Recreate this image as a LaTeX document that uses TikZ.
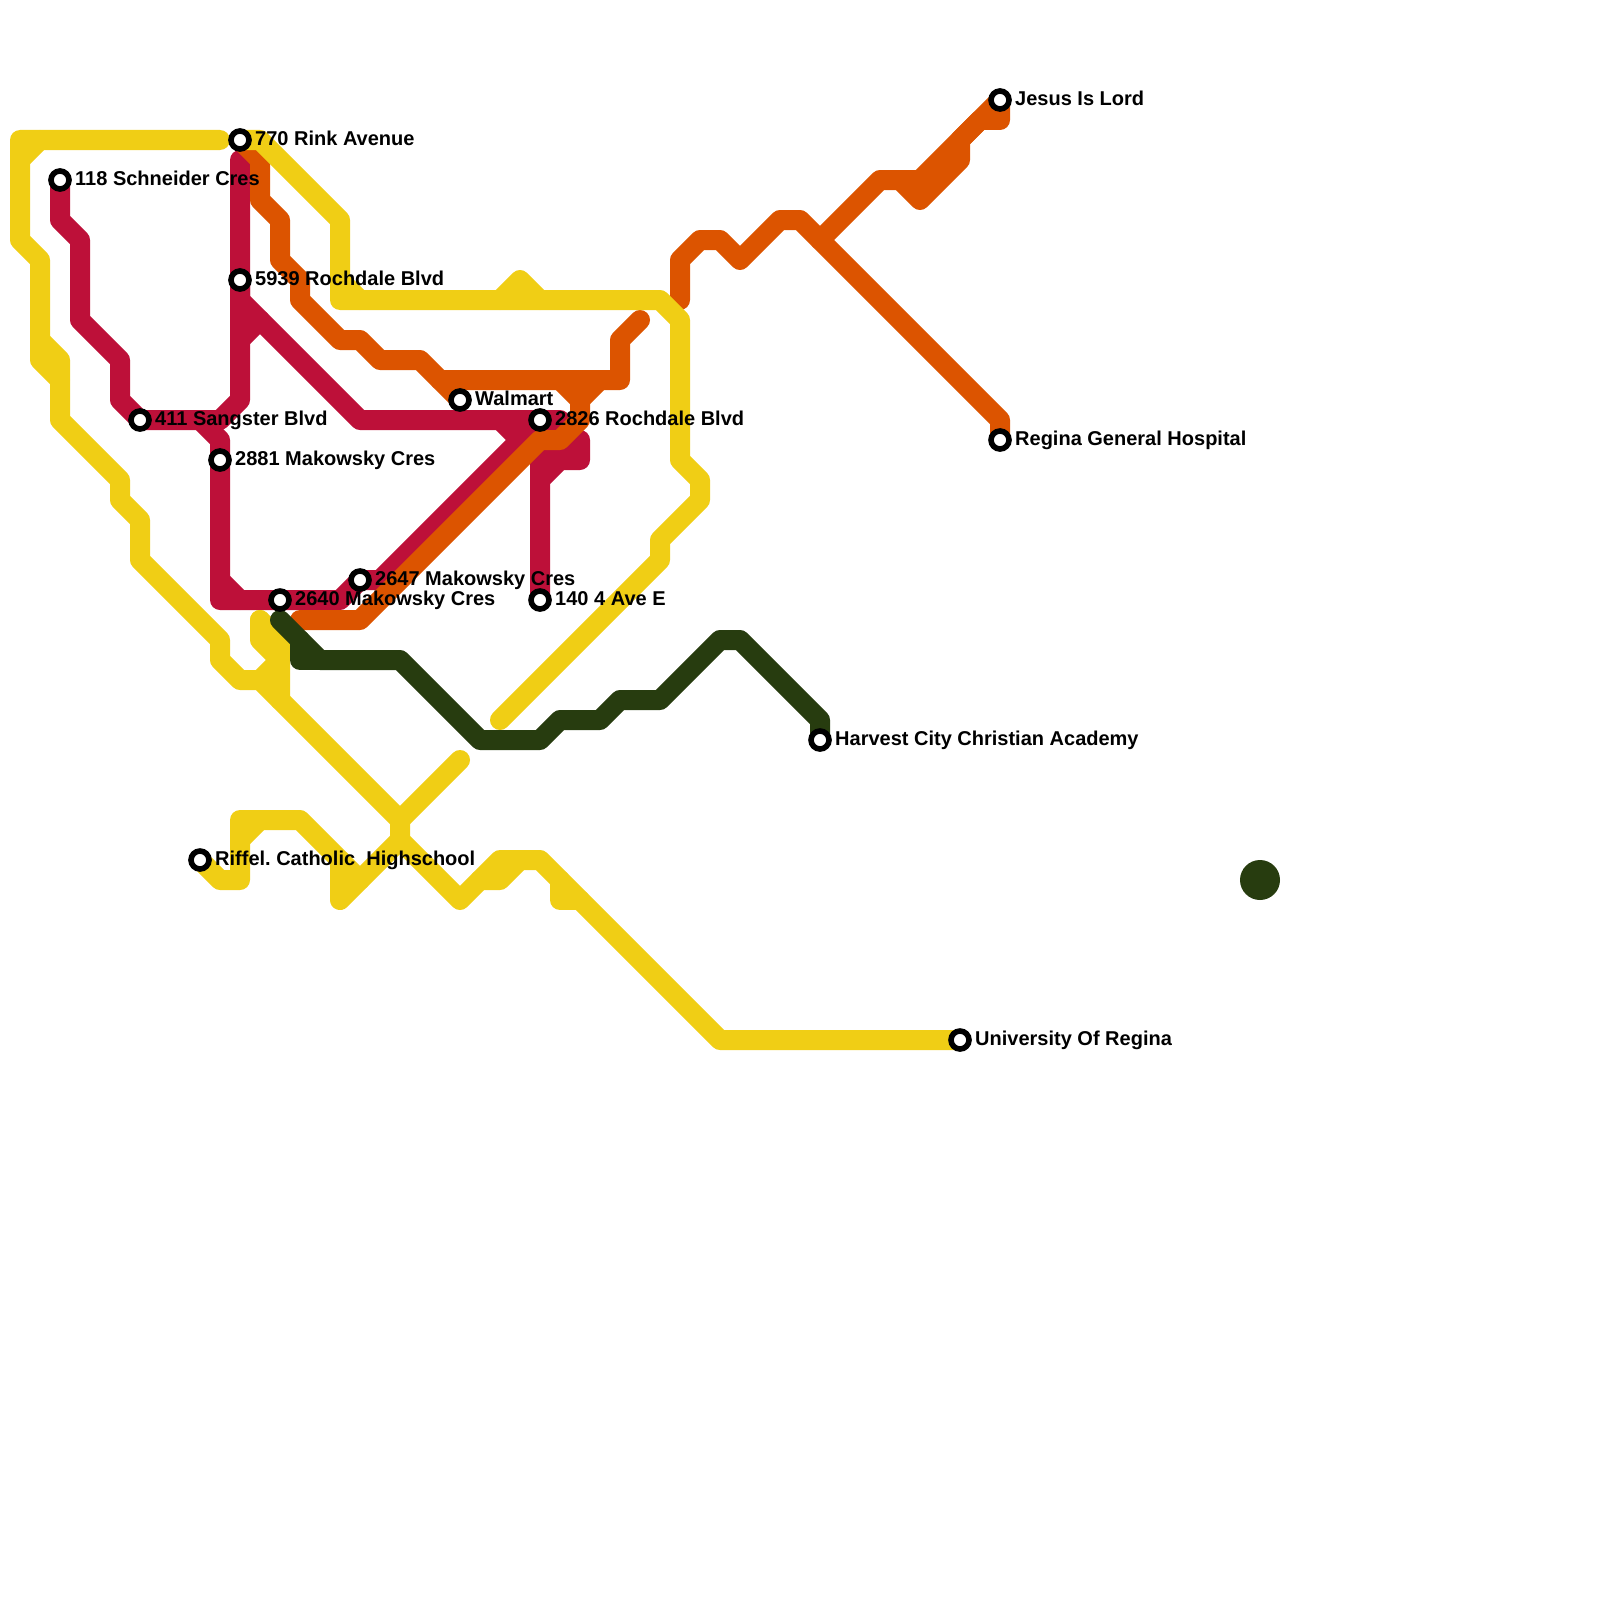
\documentclass[tikz,border=0pt]{standalone}
\usepackage{fontspec}
\setmainfont{Liberation Sans}
\definecolor{lred}{RGB}{189,16,57}
\definecolor{lorange}{RGB}{220,84,0}
\definecolor{lyellow}{RGB}{240,206,21}
\definecolor{lgreen}{RGB}{39,60,15}
\tikzset{
  metro/.style={line width=20pt,line cap=round,line join=round},
  stn/.style={circle,draw=black,fill=white,line width=5.6pt,minimum size=18pt,inner sep=0pt},
  lbl/.style={anchor=base west,inner sep=0pt,yshift=-0.5pt,font=\fontsize{20}{22}\bfseries\selectfont,text=black}
}
\begin{document}
\frenchspacing
\begin{tikzpicture}[x=1pt,y=-1pt]
\useasboundingbox (0,0) rectangle (1600,1600);
\coordinate (rink) at (240,140);
\coordinate (schneider) at (60,180);
\coordinate (rochdale) at (240,280);
\coordinate (sangster) at (140,420);
\coordinate (mak) at (220,460);
\coordinate (walmart) at (460,400);
\coordinate (rochb) at (540,420);
\coordinate (mak47) at (360,580);
\coordinate (mak40) at (280,600);
\coordinate (ave) at (540,600);
\coordinate (riffel) at (200,860);
\coordinate (jesus) at (1000,100);
\coordinate (general) at (1000,440);
\coordinate (harvest) at (820,740);
\coordinate (uni) at (960,1040);
\coordinate (gstart) at (280,620);
% red
\draw[metro,lred] (schneider) -- (60,220) -- (80,240) -- (80,320) -- (120,360) -- (120,400) -- (sangster) -- (220,420) -- (240,400) -- (240,160);
\draw[metro,lred] (200,420) -- (220,440) -- (mak) -- (220,600) -- (mak40) -- (340,600) -- (mak47) -- (380,580) -- (rochb);
\draw[metro,lred] (220,580) -- (240,600);
\draw[metro,lred] (rochdale) -- (240,300) -- (360,420) -- (rochb) -- (560,420);
\draw[metro,lred] (500,420) -- (520,440);
\draw[metro,lred] (240,340) -- (260,320);
\draw[metro,lred] (ave) -- (540,460) -- (560,440) -- (580,440) -- (580,460) -- (560,460) -- (540,480);
% orange
\draw[metro,lorange] (rink) -- (260,160) -- (260,200) -- (280,220) -- (280,260) -- (300,280) -- (300,300) -- (340,340) -- (360,340) -- (380,360) -- (420,360) -- (walmart);
\draw[metro,lorange] (440,380) -- (620,380) -- (620,340) -- (640,320);
\draw[metro,lorange] (560,380) -- (580,400) -- (580,420) -- (560,440) -- (540,440) -- (360,620) -- (300,620);
\draw[metro,lorange] (600,380) -- (580,400);
\draw[metro,lorange] (680,300) -- (680,260) -- (700,240) -- (720,240) -- (740,260) -- (780,220) -- (800,220) -- (1000,420) -- (general);
\draw[metro,lorange] (820,240) -- (880,180) -- (920,180) -- (jesus);
\draw[metro,lorange] (900,180) -- (920,200) -- (960,160) -- (960,140) -- (980,120) -- (1000,120) -- (jesus);
% yellow
\draw[metro,lyellow] (220,140) -- (20,140) -- (20,240) -- (40,260) -- (40,360) -- (60,380);
\draw[metro,lyellow] (20,160) -- (40,140);
\draw[metro,lyellow] (40,340) -- (60,360) -- (60,420) -- (120,480) -- (120,500) -- (140,520) -- (140,560) -- (220,640) -- (220,660) -- (240,680) -- (260,680) -- (400,820) -- (400,840) -- (460,900) -- (500,860) -- (540,860) -- (720,1040) -- (uni);
\draw[metro,lyellow] (480,880) -- (500,880) -- (520,860);
\draw[metro,lyellow] (560,880) -- (560,900) -- (580,900);
\draw[metro,lyellow] (rink) -- (260,140) -- (340,220) -- (340,300) -- (660,300) -- (680,320) -- (680,460) -- (700,480) -- (700,500) -- (660,540) -- (660,560) -- (500,720);
\draw[metro,lyellow] (340,280) -- (360,300);
\draw[metro,lyellow] (500,300) -- (520,280) -- (540,300);
\draw[metro,lyellow] (260,680) -- (280,660);
\draw[metro,lyellow] (260,620) -- (260,640) -- (280,660) -- (280,700);
\draw[metro,lyellow] (260,620) -- (280,640) -- (280,660);
\draw[metro,lyellow] (460,760) -- (400,820);
\draw[metro,lyellow] (400,840) -- (340,900) -- (340,860) -- (300,820) -- (240,820) -- (240,880) -- (220,880) -- (riffel);
\draw[metro,lyellow] (240,840) -- (260,820);
\draw[metro,lyellow] (340,860) -- (360,880);
% green
\draw[metro,lgreen] (gstart) -- (320,660) -- (400,660) -- (480,740) -- (540,740) -- (560,720) -- (600,720) -- (620,700) -- (660,700) -- (720,640) -- (740,640) -- (820,720) -- (harvest);
\draw[metro,lgreen] (300,640) -- (300,660) -- (320,660);
\fill[lgreen] (1260,880) circle (20pt);
% stations
\foreach \n in {rink,schneider,rochdale,sangster,mak,walmart,rochb,mak47,mak40,ave,riffel,jesus,general,harvest,uni}
  \node[stn] (s\n) at (\n) {};
% labels
\node[lbl] (lrink) at (255,145) {770 Rink Avenue};
\node[lbl] (lschneider) at (75,185) {118 Schneider Cres};
\node[lbl] (lrochdale) at (255,285) {5939 Rochdale Blvd};
\node[lbl] (lsangster) at (155,425) {411 Sangster Blvd};
\node[lbl] (lmak) at (235,465) {2881 Makowsky Cres};
\node[lbl] (lwalmart) at (475,405) {Walmart};
\node[lbl] (lrochb) at (555,425) {2826 Rochdale Blvd};
\node[lbl] (lmak47) at (375,585) {2647 Makowsky Cres};
\node[lbl] (lmak40) at (295,605) {2640 Makowsky Cres};
\node[lbl] (lave) at (555,605) {140 4 Ave E};
\node[lbl] (lriffel) at (215,865) {Riffel. Catholic\ \ Highschool};
\node[lbl] (ljesus) at (1015,105) {Jesus Is Lord};
\node[lbl] (lgeneral) at (1015,445) {Regina General Hospital};
\node[lbl] (lharvest) at (835,745) {Harvest City Christian Academy};
\node[lbl] (luni) at (975,1045) {University Of Regina};
\end{tikzpicture}
\end{document}
